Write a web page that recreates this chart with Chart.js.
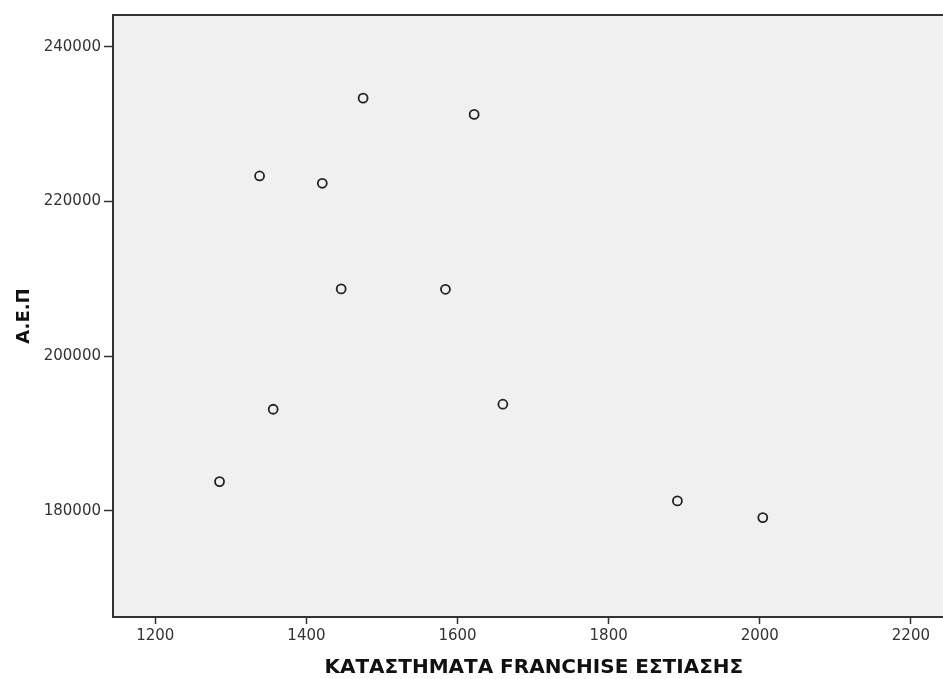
<!DOCTYPE html>
<html>
<head>
<meta charset="utf-8">
<script src="https://cdn.jsdelivr.net/npm/chart.js@4.4.0/dist/chart.umd.min.js"></script>
<style>
  html, body { margin: 0; padding: 0; background: #fff; overflow: hidden; }
  /* plot is a bit wider than the window so its right edge is cropped, like the original */
  #wrap { width: 961px; height: 679px; }
</style>
</head>
<body>
<div id="wrap"><canvas id="scatterChart"></canvas></div>
<script>
    // Data
    const franchiseStores = [1285, 1356, 1338, 1421, 1475, 1446, 1584, 1622, 1660, 1891, 2004];
    const gdpValues = [183800, 193150, 223300, 222350, 233350, 208700, 208650, 231250, 193800, 181300, 179150];
    const xTicks = [1200, 1400, 1600, 1800, 2000, 2200];
    const yTicks = [180000, 200000, 220000, 240000];

    const xTitle = 'ΚΑΤΑΣΤΗΜΑΤΑ FRANCHISE ΕΣΤΙΑΣΗΣ';
    const yTitle = 'A.E.Π';

    const points = franchiseStores.map(function(x, i) {
        return { x: x, y: gdpValues[i] };
    });

    // grey plot background and the top frame line
    const plotFrame = {
        id: 'plotFrame',
        beforeDraw: function(chart) {
            const a = chart.chartArea;
            const ctx = chart.ctx;
            ctx.save();
            ctx.fillStyle = '#f0f0f0';
            ctx.fillRect(a.left, a.top, a.right - a.left, a.bottom - a.top);
            ctx.restore();
        },
        afterDraw: function(chart) {
            const a = chart.chartArea;
            const ctx = chart.ctx;
            ctx.save();
            ctx.strokeStyle = '#333';
            ctx.lineWidth = 2;
            ctx.beginPath();
            ctx.moveTo(a.left - 1, a.top);
            ctx.lineTo(a.right, a.top);
            ctx.stroke();
            ctx.restore();
        }
    };

    const tickFont = { family: 'DejaVu Sans, Arial', size: 15 };

    const ctx = document.getElementById('scatterChart').getContext('2d');
    const scatterChart = new Chart(ctx, {
        type: 'scatter',
        data: {
            datasets: [{
                data: points,
                pointStyle: 'circle',
                pointRadius: 4.5,
                pointHoverRadius: 4.5,
                pointBorderWidth: 1.8,
                pointBorderColor: '#222',
                pointBackgroundColor: 'rgba(0,0,0,0)'
            }]
        },
        options: {
            responsive: true,
            maintainAspectRatio: false,
            animation: false,
            layout: {
                padding: { top: 15, right: 0, left: 0, bottom: 0 }
            },
            scales: {
                x: {
                    type: 'linear',
                    min: 1144,
                    max: 2258,
                    afterBuildTicks: function(scale) {
                        scale.ticks = xTicks.map(function(v) { return { value: v }; });
                    },
                    afterFit: function(scale) {
                        scale.height = 62;
                    },
                    ticks: {
                        color: '#333',
                        font: tickFont,
                        padding: 3,
                        maxRotation: 0,
                        callback: function(v) { return String(v); }
                    },
                    grid: {
                        drawOnChartArea: false,
                        tickLength: 7,
                        tickWidth: 1.5,
                        tickColor: '#333'
                    },
                    border: { display: true, color: '#333', width: 2 },
                    title: {
                        display: true,
                        text: xTitle,
                        color: '#111',
                        font: { family: 'DejaVu Sans, Arial', size: 20, weight: 'bold', lineHeight: 1 },
                        padding: { top: 0, bottom: 1 }
                    }
                },
                y: {
                    type: 'linear',
                    min: 166300,
                    max: 244100,
                    afterBuildTicks: function(scale) {
                        scale.ticks = yTicks.map(function(v) { return { value: v }; });
                    },
                    afterFit: function(scale) {
                        scale.width = 113;
                    },
                    ticks: {
                        color: '#333',
                        font: tickFont,
                        padding: 3,
                        callback: function(v) { return String(v); }
                    },
                    grid: {
                        drawOnChartArea: false,
                        tickLength: 9,
                        tickWidth: 1.5,
                        tickColor: '#333'
                    },
                    border: { display: true, color: '#333', width: 2 },
                    title: {
                        display: true,
                        text: yTitle,
                        color: '#111',
                        font: { family: 'DejaVu Sans, Arial', size: 18, weight: 'bold', lineHeight: 1 },
                        padding: { top: 15, bottom: 0 }
                    }
                }
            },
            plugins: {
                legend: { display: false },
                tooltip: { enabled: false }
            }
        },
        plugins: [plotFrame]
    });
</script>
</body>
</html>
